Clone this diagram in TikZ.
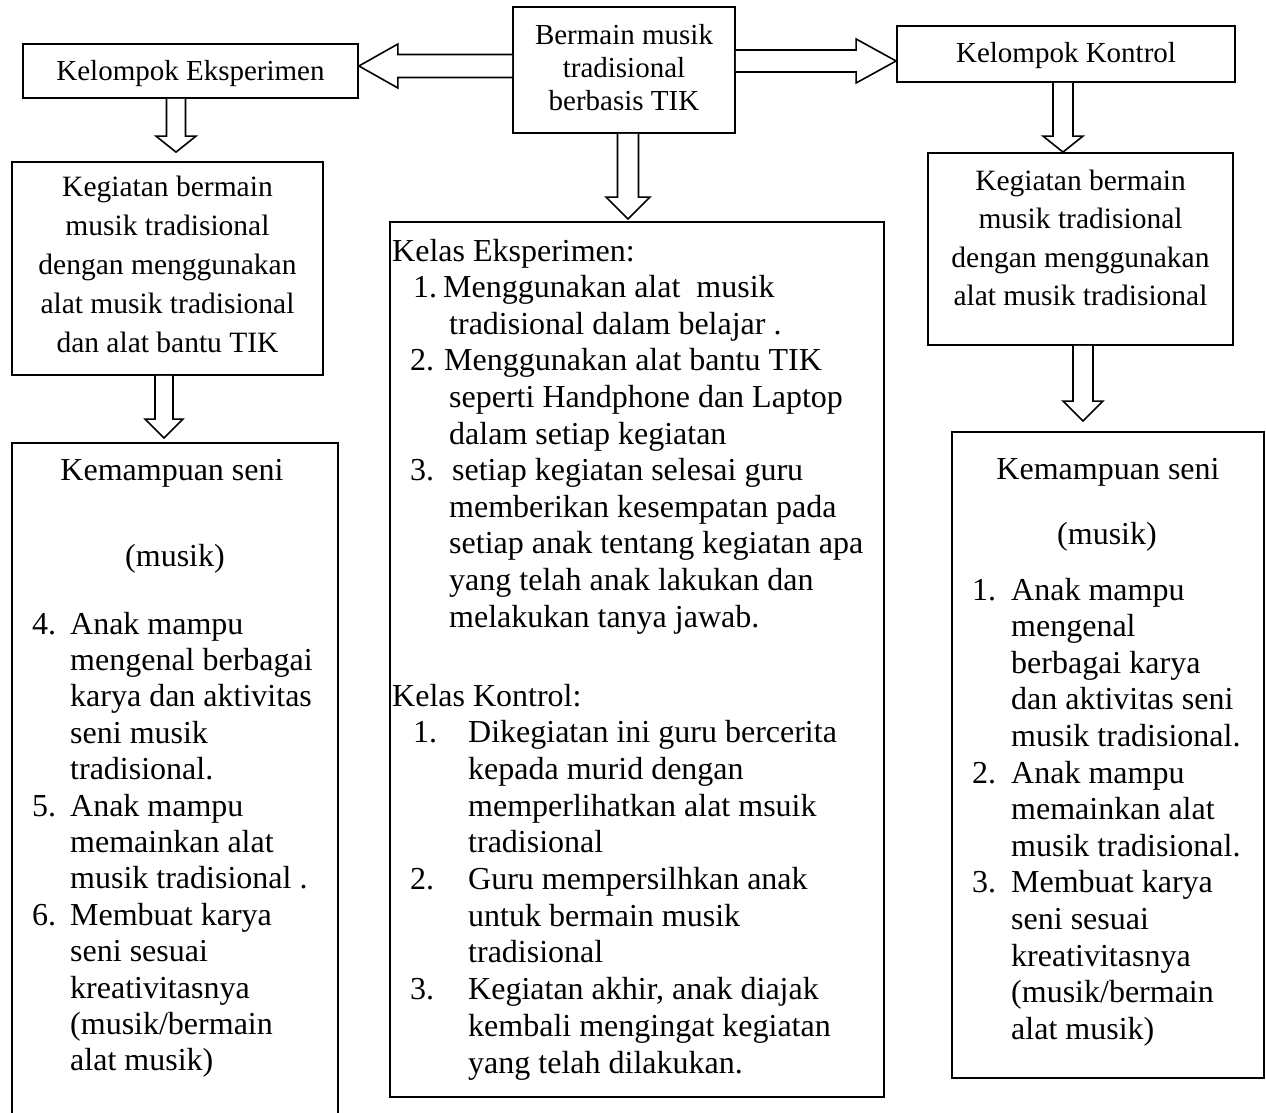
\documentclass[tikz,border=0pt]{standalone}
\usepackage{fontspec}
\setmainfont{Liberation Serif}
\usetikzlibrary{calc}
% vertical (downward) block arrow: start, tip, shaft half width, head half width, head length
\newcommand\vblk[5]{\draw[blk] let \p1=(#1), \p2=(#2) in
  (\x1-#3pt,\y1) -- (\x1-#3pt,\y2+#5pt) -- (\x1-#4pt,\y2+#5pt) -- (\x1,\y2)
  -- (\x1+#4pt,\y2+#5pt) -- (\x1+#3pt,\y2+#5pt) -- (\x1+#3pt,\y1);}
% leftward block arrow
\newcommand\lblk[5]{\draw[blk] let \p1=(#1), \p2=(#2) in
  (\x1,\y1+#3pt) -- (\x2+#5pt,\y1+#3pt) -- (\x2+#5pt,\y1+#4pt) -- (\x2,\y1)
  -- (\x2+#5pt,\y1-#4pt) -- (\x2+#5pt,\y1-#3pt) -- (\x1,\y1-#3pt);}
% rightward block arrow
\newcommand\rblk[5]{\draw[blk] let \p1=(#1), \p2=(#2) in
  (\x1,\y1+#3pt) -- (\x2-#5pt,\y1+#3pt) -- (\x2-#5pt,\y1+#4pt) -- (\x2,\y1)
  -- (\x2-#5pt,\y1-#4pt) -- (\x2-#5pt,\y1-#3pt) -- (\x1,\y1-#3pt);}
\newcommand\numit[2]{\rlap{#1}\hspace*{#2pt}}
\begin{document}
\begin{tikzpicture}[x=1pt,y=-1pt,
  box/.style={draw=black, line width=1.8pt, inner sep=0pt},
  blk/.style={draw=black, line width=1.6pt, fill=white, line join=miter},
  t29/.style={inner sep=0pt, font=\fontsize{29}{33}\selectfont},
  tkeg/.style={inner sep=0pt, font=\fontsize{29.5}{39}\selectfont},
  tkegr/.style={inner sep=0pt, font=\fontsize{29.5}{38.5}\selectfont},
  t32/.style={inner sep=0pt, font=\fontsize{32}{36.6}\selectfont},
  t32k/.style={inner sep=0pt, font=\fontsize{32}{36.7}\selectfont},
  t32l/.style={inner sep=0pt, font=\fontsize{32}{36.4}\selectfont},
  t32r/.style={inner sep=0pt, font=\fontsize{32}{36.6}\selectfont}]
\useasboundingbox (0,0) rectangle (1266,1113);
\fill[white] (0,0) rectangle (1266,1113);
\clip (0,0) rectangle (1266,1113);

% boxes
\node[box, minimum width=335pt, minimum height=54pt] (ke) at (190.5,71) {};
\node[box, minimum width=222pt, minimum height=126pt] (cb) at (624,70) {};
\node[box, minimum width=338pt, minimum height=56pt] (kk) at (1066,54) {};
\node[box, minimum width=311pt, minimum height=213pt] (lk) at (167.5,268.5) {};
\node[box, minimum width=305pt, minimum height=192pt] (rk) at (1080.5,249) {};
\node[box, minimum width=494pt, minimum height=875pt] (bb) at (637,659.5) {};
\node[box, minimum width=326pt, minimum height=694pt] (lkem) at (175,790) {};
\node[box, minimum width=312pt, minimum height=646pt] (rkem) at (1108,755) {};

% texts
\node[t29, anchor=base] (ket) at (190.5,81) {Kelompok Eksperimen};
\node[t29, anchor=base] (kkt) at (1066,63) {Kelompok Kontrol};
\node[t29, anchor=base] (cbt) at (624,45) {\begin{tabular}[t]{@{}c@{}}Bermain musik\\tradisional\\berbasis TIK\end{tabular}};
\node[tkeg, anchor=base] (lkt) at (167.5,196) {\begin{tabular}[t]{@{}c@{}}Kegiatan bermain\\musik tradisional\\dengan menggunakan\\alat musik tradisional\\dan alat bantu TIK\end{tabular}};
\node[tkegr, anchor=base] (rkt) at (1080.5,190) {\begin{tabular}[t]{@{}c@{}}Kegiatan bermain\\musik tradisional\\dengan menggunakan\\alat musik tradisional\end{tabular}};

\node[t32, anchor=base west] (bbe) at (392,261) {\begin{tabular}[t]{@{}l@{}}
Kelas Eksperimen:\\
\rlap{\hspace*{21pt}1.}\hspace*{51pt}Menggunakan alat\ \ musik\\
\hspace*{57pt}tradisional dalam belajar .\\
\rlap{\hspace*{18pt}2.}\hspace*{52pt}Menggunakan alat bantu TIK\\
\hspace*{57pt}seperti Handphone dan Laptop\\
\hspace*{57pt}dalam setiap kegiatan\\
\rlap{\hspace*{18pt}3.}\hspace*{60pt}setiap kegiatan selesai guru\\
\hspace*{57pt}memberikan kesempatan pada\\
\hspace*{57pt}setiap anak tentang kegiatan apa\\
\hspace*{57pt}yang telah anak lakukan dan\\
\hspace*{57pt}melakukan tanya jawab.
\end{tabular}};

\node[t32k, anchor=base west] (bbk) at (392,706) {\begin{tabular}[t]{@{}l@{}}
Kelas Kontrol:\\
\rlap{\hspace*{21pt}1.}\hspace*{76pt}Dikegiatan ini guru bercerita\\
\hspace*{76pt}kepada murid dengan\\
\hspace*{76pt}memperlihatkan alat msuik\\
\hspace*{76pt}tradisional\\
\rlap{\hspace*{18pt}2.}\hspace*{76pt}Guru mempersilhkan anak\\
\hspace*{76pt}untuk bermain musik\\
\hspace*{76pt}tradisional\\
\rlap{\hspace*{18pt}3.}\hspace*{76pt}Kegiatan akhir, anak diajak\\
\hspace*{76pt}kembali mengingat kegiatan\\
\hspace*{76pt}yang telah dilakukan.
\end{tabular}};

\node[t32, anchor=base] (lkh1) at (172,480) {Kemampuan seni};
\node[t32, anchor=base] (lkh2) at (175,566) {(musik)};
\node[t32l, anchor=base west] (lkl) at (32,634) {\begin{tabular}[t]{@{}l@{}}
\numit{4.}{38}Anak mampu\\
\hspace*{38pt}mengenal berbagai\\
\hspace*{38pt}karya dan aktivitas\\
\hspace*{38pt}seni musik\\
\hspace*{38pt}tradisional.\\
\numit{5.}{38}Anak mampu\\
\hspace*{38pt}memainkan alat\\
\hspace*{38pt}musik tradisional .\\
\numit{6.}{38}Membuat karya\\
\hspace*{38pt}seni sesuai\\
\hspace*{38pt}kreativitasnya\\
\hspace*{38pt}(musik/bermain\\
\hspace*{38pt}alat musik)
\end{tabular}};

\node[t32, anchor=base] (rkh1) at (1108,479) {Kemampuan seni};
\node[t32, anchor=base] (rkh2) at (1107,544) {(musik)};
\node[t32r, anchor=base west] (rkl) at (972,600) {\begin{tabular}[t]{@{}l@{}}
\numit{1.}{39}Anak mampu\\
\hspace*{39pt}mengenal\\
\hspace*{39pt}berbagai karya\\
\hspace*{39pt}dan aktivitas seni\\
\hspace*{39pt}musik tradisional.\\
\numit{2.}{39}Anak mampu\\
\hspace*{39pt}memainkan alat\\
\hspace*{39pt}musik tradisional.\\
\numit{3.}{39}Membuat karya\\
\hspace*{39pt}seni sesuai\\
\hspace*{39pt}kreativitasnya\\
\hspace*{39pt}(musik/bermain\\
\hspace*{39pt}alat musik)
\end{tabular}};

% block arrows
\lblk{$(cb.west)+(0,-4)$}{ke.east}{11.5}{22}{39}
\rblk{$(cb.east)+(0,-9)$}{kk.west}{11}{22}{40}
\vblk{$(ke.south)+(-14.5,0)$}{$(lk.north)+(0,-9)$}{9.5}{20}{16}
\vblk{$(lk.south)+(-3.5,0)$}{$(lkem.north)+(0,-4)$}{9}{19}{19}
\vblk{$(kk.south)+(-3,0)$}{rk.north}{10}{20}{16}
\vblk{$(rk.south)+(2.5,0)$}{$(rkem.north)+(0,-10)$}{10}{20}{20}
\vblk{$(cb.south)+(4,0)$}{$(bb.north)+(0,-2)$}{10.5}{22}{22}
\end{tikzpicture}
\end{document}
